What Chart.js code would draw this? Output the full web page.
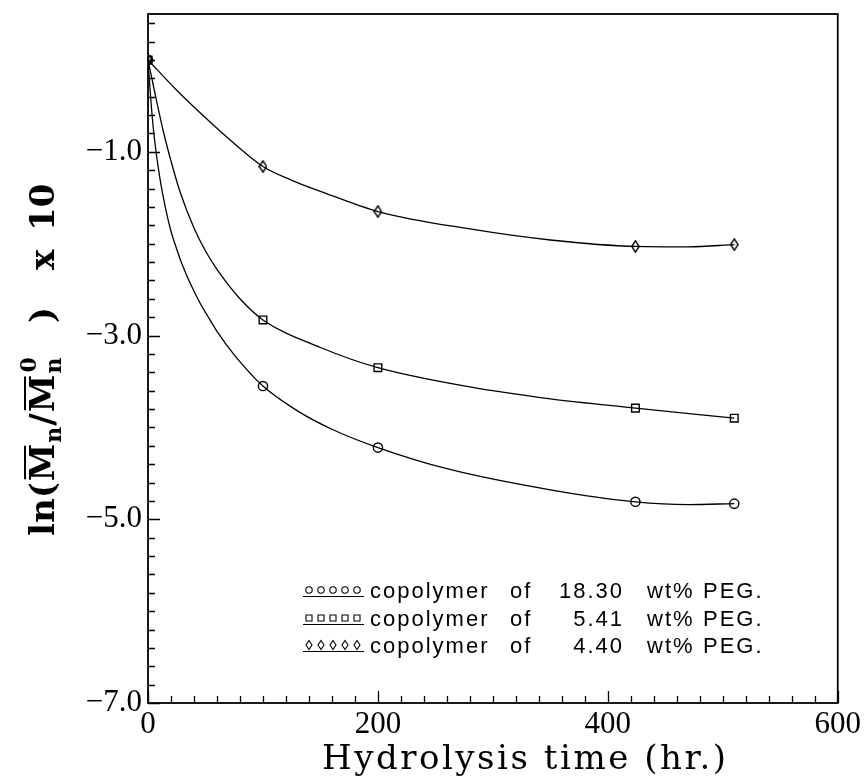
<!DOCTYPE html>
<html><head><meta charset="utf-8">
<script src="https://cdn.jsdelivr.net/npm/chart.js@4"></script>
<style>html,body{margin:0;padding:0;background:#fff;}#wrap{width:864px;height:781px;}</style>
</head><body>
<div id="wrap"><canvas id="c" width="864" height="781"></canvas></div>
<script>
// ---- data ----
const hours = [0, 100, 200, 424, 510];
const peg1830 = [0, -3.55, -4.22, -4.81, -4.83];
const peg541 = [0, -2.83, -3.35, -3.79, -3.90];
const peg440 = [0, -1.16, -1.65, -2.03, -2.01];
// smooth fitted curves
const fitHours1830 = [0, 2, 5, 10, 15, 20, 25, 30, 37, 45, 52, 60, 75, 100, 130, 160, 200, 260, 350, 424, 470, 510];
const fit1830 = [0, -0.36, -0.79, -1.26, -1.6, -1.865, -2.06, -2.235, -2.44, -2.64, -2.79, -2.955, -3.21, -3.55, -3.82, -4.02, -4.22, -4.45, -4.68, -4.81, -4.84, -4.83];
const fitHours541 = [0, 5, 13, 20, 28, 40, 50, 60, 80, 100, 150, 200, 280, 350, 424, 510];
const fit541 = [0, -0.3, -0.76, -1.1, -1.44, -1.83, -2.08, -2.28, -2.6, -2.83, -3.13, -3.35, -3.56, -3.69, -3.79, -3.90];
const fitHours440 = [0, 25, 50, 75, 100, 125, 150, 200, 280, 350, 424, 470, 510];
const fit440 = [0, -0.33, -0.63, -0.91, -1.16, -1.31, -1.43, -1.65, -1.84, -1.96, -2.03, -2.035, -2.01];
const xMajor = [0, 200, 400, 600];
const xTickLabels = ['0', '200', '400', '600'];
const yMajor = [-1, -3, -5, -7];
const yTickLabels = ['\u22121.0', '\u22123.0', '\u22125.0', '\u22127.0'];
const legendNames = ['18.30', '5.41', '4.40'];
const xTitle = 'Hydrolysis time (hr.)';

// tick positions (minor every 20 hr, every 0.2 units)
const xTickValues = [];
for (let i = 0; i <= 30; i++) xTickValues.push(i * 20);
const yTickValues = [];
for (let i = -35; i <= 2; i++) yTickValues.push(Math.round(i * 2) / 10);

function pts(xa, ya) { return xa.map((x, i) => ({x: x, y: ya[i]})); }

function diamondImg(w, h, lw) {
  const c = document.createElement('canvas'); c.width = w; c.height = h;
  const g = c.getContext('2d'); g.strokeStyle = '#000'; g.lineWidth = lw;
  g.beginPath(); g.moveTo(w / 2, 0.8); g.lineTo(w - 0.8, h / 2); g.lineTo(w / 2, h - 0.8); g.lineTo(0.8, h / 2); g.closePath(); g.stroke();
  return c;
}
const diamond = diamondImg(9, 13, 1.4);

const markerBase = {showLine: false, borderColor: '#000', backgroundColor: 'rgba(0,0,0,0)', borderWidth: 1.4};
const curveBase = {showLine: true, pointRadius: 0, borderColor: '#000', borderWidth: 1.3, tension: 0.4, cubicInterpolationMode: 'monotone', fill: false};

const deco = {
  id: 'deco',
  afterDraw(chart) {
    const ctx = chart.ctx, a = chart.chartArea, xs = chart.scales.x, ys = chart.scales.y;
    ctx.save();
    ctx.strokeStyle = '#000'; ctx.fillStyle = '#000';
    // inward ticks
    ctx.lineWidth = 1.3;
    ctx.beginPath();
    xs.ticks.forEach(t => {
      const px = Math.round(xs.getPixelForValue(t.value)) + 0.5;
      const len = xMajor.includes(t.value) ? 12 : 7;
      ctx.moveTo(px, a.bottom); ctx.lineTo(px, a.bottom - len);
    });
    ys.ticks.forEach(t => {
      const py = Math.round(ys.getPixelForValue(t.value)) + 0.5;
      const len = yMajor.includes(t.value) ? 12 : 7;
      ctx.moveTo(a.left, py); ctx.lineTo(a.left + len, py);
    });
    ctx.stroke();
    // frame
    ctx.lineWidth = 1.8;
    ctx.strokeRect(a.left, a.top, a.right - a.left, a.bottom - a.top);

    // legend
    const bases = [598, 626, 653];
    ctx.font = '22px "Liberation Sans", Arial, sans-serif';
    ctx.textBaseline = 'alphabetic';
    try { ctx.letterSpacing = '2px'; } catch (e) {}
    bases.forEach((b, r) => {
      ctx.textAlign = 'left';
      ctx.fillText('copolymer', 370, b);
      ctx.fillText('of', 510, b);
      ctx.fillText('wt%', 647, b);
      ctx.fillText('PEG.', 703, b);
      ctx.textAlign = 'right';
      ctx.fillText(legendNames[r], 624, b);
      // sample: five markers and an underline
      ctx.lineWidth = 1.1;
      ctx.beginPath(); ctx.moveTo(303, b - 1.5); ctx.lineTo(364, b - 1.5); ctx.stroke();
      const cy = b - 8;
      for (let k = 0; k < 5; k++) {
        const cx = 309 + k * 12;
        ctx.beginPath();
        if (r === 0) { ctx.arc(cx, cy, 3.2, 0, Math.PI * 2); }
        else if (r === 1) { ctx.rect(cx - 3, cy - 3, 6, 6); }
        else { ctx.moveTo(cx, cy - 4.5); ctx.lineTo(cx + 3, cy); ctx.lineTo(cx, cy + 4.5); ctx.lineTo(cx - 3, cy); ctx.closePath(); }
        ctx.stroke();
      }
    });
    try { ctx.letterSpacing = '0px'; } catch (e) {}

    // x title
    ctx.font = '34px "DejaVu Serif", serif';
    ctx.textAlign = 'center';
    const w0 = ctx.measureText(xTitle).width;
    const sp = Math.max(0, (404 - w0) / (xTitle.length - 1));
    try { ctx.letterSpacing = sp.toFixed(2) + 'px'; } catch (e) {}
    ctx.fillText(xTitle, 524 + sp / 2, 769);
    try { ctx.letterSpacing = '0px'; } catch (e) {}

    // y title (rotated)
    ctx.save();
    ctx.translate(54, 536);
    ctx.rotate(-Math.PI / 2);
    ctx.textAlign = 'left';
    const big = 'bold 34px "DejaVu Serif", serif';
    const small = 'bold 22px "DejaVu Serif", serif';
    let x = 0;
    ctx.font = big;
    ctx.fillText('ln(', x, 0); x += ctx.measureText('ln(').width + 1;
    const drawM = (sup) => {
      ctx.font = big;
      const wM = ctx.measureText('M').width;
      ctx.fillText('M', x, 0);
      ctx.lineWidth = 2;
      ctx.beginPath(); ctx.moveTo(x + 2, -29); ctx.lineTo(x + wM - 2, -29); ctx.stroke();
      x += wM + 1;
      ctx.font = small;
      ctx.fillText('n', x, 7);
      let wn = ctx.measureText('n').width;
      if (sup) { ctx.fillText('0', x + 1, -18); wn = Math.max(wn, ctx.measureText('0').width + 1); }
      x += wn + 1;
    };
    drawM(false);
    ctx.font = big;
    ctx.fillText('/', x, 0); x += ctx.measureText('/').width + 1;
    drawM(true);
    ctx.font = big;
    x = Math.max(x + 8, 213);
    ctx.fillText(')', x, 0);
    ctx.fillText('x', 266, 0);
    ctx.fillText('10', 305, 0);
    ctx.restore();

    ctx.restore();
  }
};

new Chart(document.getElementById('c'), {
  type: 'scatter',
  data: {
    datasets: [
      Object.assign({label: '18.30', data: pts(hours, peg1830), pointStyle: 'circle', pointRadius: 4.6}, markerBase),
      Object.assign({label: '5.41', data: pts(hours, peg541), pointStyle: 'rect', pointRadius: 5.4}, markerBase),
      Object.assign({label: '4.40', data: pts(hours, peg440), pointStyle: diamond, pointRadius: 6}, markerBase),
      Object.assign({label: 'fit 18.30', data: pts(fitHours1830, fit1830)}, curveBase),
      Object.assign({label: 'fit 5.41', data: pts(fitHours541, fit541)}, curveBase),
      Object.assign({label: 'fit 4.40', data: pts(fitHours440, fit440)}, curveBase)
    ]
  },
  options: {
    responsive: false,
    animation: false,
    devicePixelRatio: 1,
    layout: {padding: {left: 0, right: 25, top: 14, bottom: 0}},
    plugins: {legend: {display: false}, tooltip: {enabled: false}, title: {display: false}},
    scales: {
      x: {
        type: 'linear', min: 0, max: 600,
        afterBuildTicks: s => { s.ticks = xTickValues.map(v => ({value: v})); },
        afterFit: s => { s.height = 78; },
        grid: {display: false, drawTicks: false},
        border: {display: false},
        ticks: {
          autoSkip: false, maxRotation: 0, minRotation: 0, padding: 3, color: '#000',
          font: {family: '"Liberation Serif", "Times New Roman", serif', size: 31},
          callback: v => { const i = xMajor.indexOf(v); return i >= 0 ? xTickLabels[i] : ''; }
        }
      },
      y: {
        type: 'linear', min: -7, max: 0.5,
        afterBuildTicks: s => { s.ticks = yTickValues.map(v => ({value: v})); },
        afterFit: s => { s.width = 148; },
        grid: {display: false, drawTicks: false},
        border: {display: false},
        ticks: {
          autoSkip: false, padding: 6, color: '#000',
          font: {family: '"Liberation Serif", "Times New Roman", serif', size: 31, lineHeight: 0.5},
          callback: v => { const i = yMajor.indexOf(Math.round(v * 10) / 10); return i >= 0 ? yTickLabels[i] : ''; }
        }
      }
    }
  },
  plugins: [deco]
});
</script>
</body></html>
